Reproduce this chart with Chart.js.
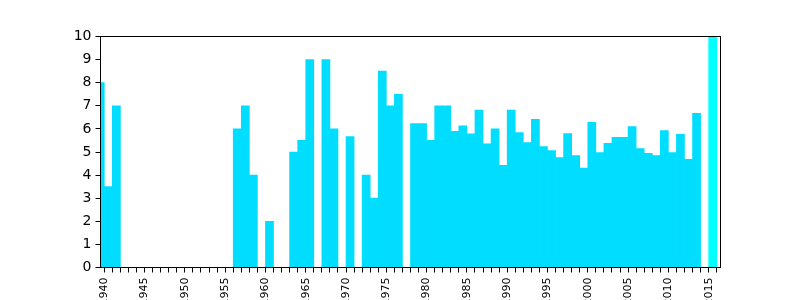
<!DOCTYPE html>
<html>
<head>
<meta charset="utf-8">
<script src="https://cdn.jsdelivr.net/npm/chart.js@4.4.0/dist/chart.umd.min.js"></script>
<style>
html, body { margin: 0; padding: 0; overflow: hidden; background: #fff; }
</style>
</head>
<body>
<canvas id="chart" width="800" height="300"></canvas>
<script>
// one bar per year, the bar covers [year, year + 1)
const years = [1939, 1940, 1941,
    1956, 1957, 1958, 1960, 1963, 1964, 1965, 1967, 1968, 1970,
    1972, 1973, 1974, 1975, 1976, 1978, 1979, 1980, 1981, 1982, 1983, 1984,
    1985, 1986, 1987, 1988, 1989, 1990, 1991, 1992, 1993, 1994, 1995, 1996,
    1997, 1998, 1999, 2000, 2001, 2002, 2003, 2004, 2005, 2006, 2007, 2008,
    2009, 2010, 2011, 2012, 2013]
const values = [8, 3.5, 7,
    6, 7, 4, 2, 5, 5.5, 9, 9, 6, 5.67,
    4, 3, 8.5, 7, 7.5, 6.23, 6.23, 5.5, 7, 7, 5.89, 6.13,
    5.79, 6.82, 5.35, 6.0, 4.42, 6.82, 5.84, 5.41, 6.41, 5.24, 5.06, 4.76,
    5.80, 4.85, 4.30, 6.28, 4.98, 5.37, 5.63, 5.63, 6.10, 5.15, 4.94, 4.85,
    5.93, 4.98, 5.76, 4.68, 6.67]

// current year, drawn in a lighter colour
const currentYears = [2015]
const currentValues = [10]

const yTicks = [0, 1, 2, 3, 4, 5, 6, 7, 8, 9, 10]
const labelEvery = 5

const toPoints = (xs, ys) => xs.map((yr, i) => ({x: yr + 0.5, y: ys[i]}))

const frame = {
    id: 'frame',
    afterDatasetsDraw(chart) {
        const {ctx, chartArea: a} = chart
        ctx.save()
        ctx.strokeStyle = '#000'
        ctx.lineWidth = 1
        ctx.strokeRect(a.left, a.top, a.right - a.left, a.bottom - a.top)
        ctx.restore()
    }
}

const config = {
    type: 'bar',
    data: {
        datasets: [{
            label: 'per year',
            data: toPoints(years, values),
            backgroundColor: '#00DDFF',
            grouped: false,
            clip: 0
        }, {
            label: 'current',
            data: toPoints(currentYears, currentValues),
            backgroundColor: '#00FFFF',
            grouped: false,
            clip: 0
        }]
    },
    options: {
        responsive: false,
        devicePixelRatio: 1,
        animation: false,
        barPercentage: 1,
        categoryPercentage: 1,
        layout: {padding: {top: 36.5, right: 79.5, left: 0, bottom: 0}},
        plugins: {legend: {display: false}, tooltip: {enabled: false}},
        scales: {
            x: {
                type: 'linear',
                bounds: 'data',
                offset: false,
                min: 1939.53,
                max: 2016.47,
                afterBuildTicks: scale => {
                    const t = []
                    for (let v = Math.ceil(scale.min); v <= Math.floor(scale.max); v++) t.push({value: v})
                    scale.ticks = t
                },
                afterFit: scale => { scale.height = 32.5 },
                border: {display: false},
                grid: {offset: false, drawOnChartArea: false, drawTicks: true, tickLength: 5, color: '#000'},
                ticks: {
                    autoSkip: false,
                    minRotation: 90,
                    maxRotation: 90,
                    padding: 5,
                    color: '#000',
                    font: {family: 'DejaVu Sans', size: 11},
                    callback: v => v % labelEvery === 0 ? String(v) : ''
                }
            },
            y: {
                min: yTicks[0],
                max: yTicks[yTicks.length - 1],
                afterBuildTicks: scale => { scale.ticks = yTicks.map(v => ({value: v})) },
                afterFit: scale => { scale.width = 100.5 },
                border: {display: false},
                grid: {drawOnChartArea: false, drawTicks: true, tickLength: 5, color: '#000'},
                ticks: {
                    padding: 4,
                    color: '#000',
                    font: {family: 'DejaVu Sans', size: 14}
                }
            }
        }
    },
    plugins: [frame]
}

const chart = new Chart(document.getElementById('chart').getContext('2d'), config)
</script>
</body>
</html>
